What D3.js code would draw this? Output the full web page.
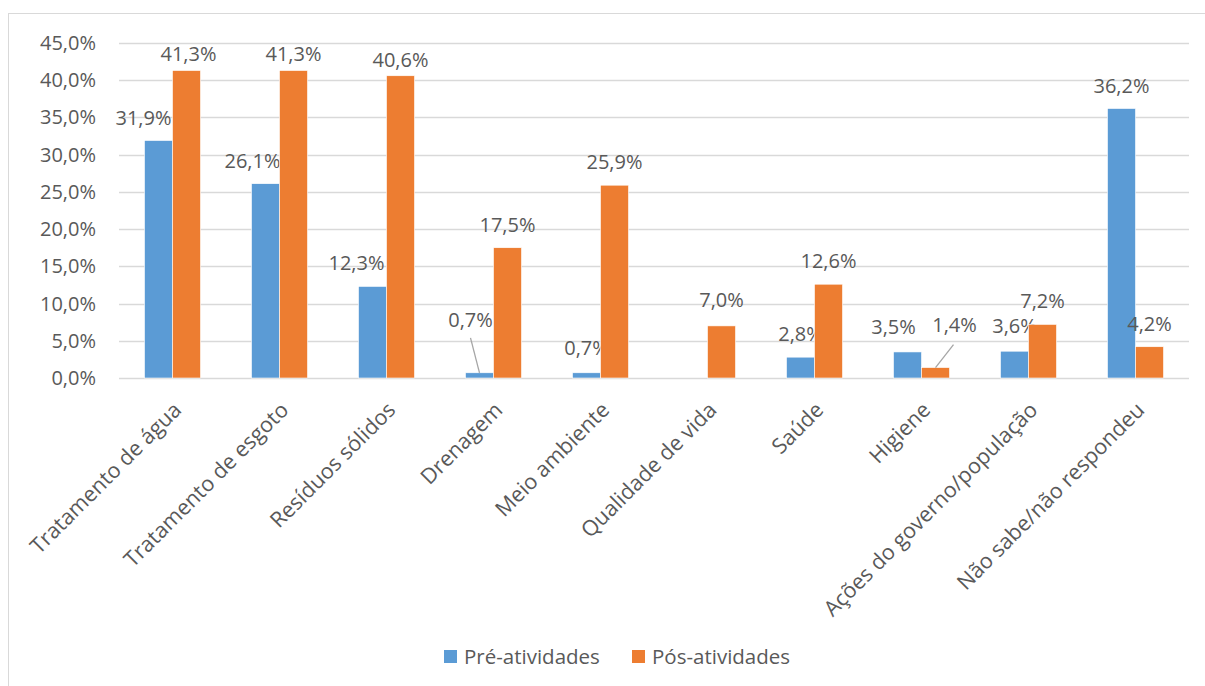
<meta charset="utf-8">
<head>
  <title>Pré e pós atividades</title>
</head>
<style>
  body { margin: 0; background: #fff; }
  text { font-family: "Open Sans", sans-serif; fill: #595959; }
</style>
<body>
<svg width="1205" height="686"></svg>
<script src="https://cdnjs.cloudflare.com/ajax/libs/d3/7.8.5/d3.min.js"></script>
<script>

var categories = ["Tratamento de água", "Tratamento de esgoto", "Resíduos sólidos", "Drenagem",
  "Meio ambiente", "Qualidade de vida", "Saúde", "Higiene", "Ações do governo/população",
  "Não sabe/não respondeu"];
var pre = [31.9, 26.1, 12.3, 0.7, 0.7, null, 2.8, 3.5, 3.6, 36.2];
var pos = [41.3, 41.3, 40.6, 17.5, 25.9, 7.0, 12.6, 1.4, 7.2, 4.2];
var seriesNames = ["Pré-atividades", "Pós-atividades"];
var yTicks = [0, 5, 10, 15, 20, 25, 30, 35, 40, 45];

var colors = ["#5b9bd5", "#ed7d31"];

// labels that were dragged by hand in the original ([series]-[category] -> dx, dy, leader line)
var moved = {
  "0-0": [-15, 0], "0-1": [-13, 0], "0-2": [-16, 0], "0-7": [-14, -2],
  "0-3": [-9, -30, true], "1-7": [19, -20, true],
  "1-0": [2, 6], "1-1": [0, 6], "1-2": [0, 7], "1-5": [0, -3], "0-4": [0, -2], "0-8": [0, -2]
};

var svg = d3.select("svg");
svg.append("rect").attr("x", 8.5).attr("y", 13.5).attr("width", 1210).attr("height", 700)
  .attr("fill", "none").attr("stroke", "#d9d9d9");

var plotLeft = 119, plotRight = 1189, plotTop = 43, plotBottom = 378;

var x = d3.scaleBand().domain(categories).range([plotLeft, plotRight]);
var y = d3.scaleLinear().domain([0, 45]).range([plotBottom, plotTop]);
var barW = 28;

var fmt = function(v) { return v.toFixed(1).replace(".", ",") + "%"; };

var g = svg.append("g");

g.selectAll("line.grid").data(yTicks).enter().append("line")
  .attr("x1", plotLeft).attr("x2", plotRight)
  .attr("y1", function(d) { return Math.round(y(d)) + 0.5; })
  .attr("y2", function(d) { return Math.round(y(d)) + 0.5; })
  .attr("stroke", "#d9d9d9").attr("stroke-width", 1.3);

g.selectAll("text.ytick").data(yTicks).enter().append("text")
  .attr("x", 96).attr("y", function(d) { return y(d); }).attr("dy", "0.35em")
  .attr("text-anchor", "end").style("font-size", "20px")
  .text(function(d) { return fmt(d); });

[pre, pos].forEach(function(vals, s) {
  var items = categories.map(function(c, i) { return { c: c, i: i, v: vals[i] }; })
    .filter(function(d) { return d.v != null; });

  g.selectAll("rect.s" + s).data(items).enter().append("rect")
    .attr("x", function(d) { return x(d.c) + x.bandwidth() / 2 - barW + s * barW; })
    .attr("y", function(d) { return y(d.v); })
    .attr("width", barW)
    .attr("height", function(d) { return plotBottom - y(d.v); })
    .attr("fill", colors[s]).attr("stroke", "#fff").attr("stroke-width", 0.6);

  items.forEach(function(d) {
    var cx = x(d.c) + x.bandwidth() / 2 - barW / 2 + s * barW;
    var cy = y(d.v) - 23;
    var m = moved[s + "-" + d.i];
    var lx = cx, ly = cy;
    if (m) { lx = cx + m[0]; ly = cy + m[1]; }
    if (m && m[2]) {
      // leader line from label to bar top
      g.append("line")
        .attr("x1", lx + (s == 0 ? 0 : -1)).attr("y1", ly + (s == 0 ? 18 : 20))
        .attr("x2", cx).attr("y2", y(d.v))
        .attr("stroke", "#a6a6a6").attr("stroke-width", 1.3);
    }
    g.append("text").attr("x", lx).attr("y", ly).attr("dy", "0.35em")
      .attr("text-anchor", "middle").style("font-size", "20px")
      .text(fmt(d.v));
  });
});

g.selectAll("text.xlab").data(categories).enter().append("text")
  .attr("transform", function(d) {
    return "translate(" + (x(d) + x.bandwidth() / 2 + 5) + "," + 406 + ") rotate(-45)";
  })
  .attr("text-anchor", "end").attr("dy", "0.35em").style("font-size", "21.5px")
  .text(function(d) { return d; });

var legend = svg.append("g");
var legX = [444, 632];
seriesNames.forEach(function(n, s) {
  legend.append("rect").attr("x", legX[s]).attr("y", 650).attr("width", 13).attr("height", 13)
    .attr("fill", colors[s]);
  legend.append("text").attr("x", legX[s] + 20).attr("y", 657).attr("dy", "0.35em")
    .style("font-size", "20.5px").text(n);
});

</script>
</body>
</html>
